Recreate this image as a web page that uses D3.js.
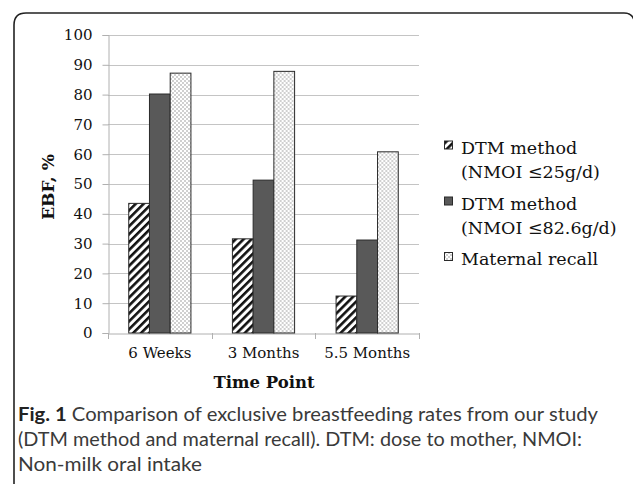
<!DOCTYPE html>
<html>
<head>
<meta charset="utf-8">
<script src="https://cdn.jsdelivr.net/npm/d3@7"></script>
<style>
  html, body { margin: 0; padding: 0; background: #fff; }
  svg { display: block; }
</style>
</head>
<body>
<svg id="chart" width="633" height="484"></svg>
<script>
const categories = ["6 Weeks", "3 Months", "5.5 Months"];
const seriesNames = ["DTM method (NMOI ≤25g/d)", "DTM method (NMOI ≤82.6g/d)", "Maternal recall"];
const legendLines = [["DTM method", "(NMOI ≤25g/d)"], ["DTM method", "(NMOI ≤82.6g/d)"], ["Maternal recall"]];
const dtm25 = [43.5, 31.6, 12.4];
const dtm82 = [80.2, 51.3, 31.2];
const recall = [87.2, 87.8, 60.8];
const yTicks = [0, 10, 20, 30, 40, 50, 60, 70, 80, 90, 100];
const captionLines = [
  {bold: "Fig. 1", text: " Comparison of exclusive breastfeeding rates from our study"},
  {bold: "", text: "(DTM method and maternal recall). DTM: dose to mother, NMOI:"},
  {bold: "", text: "Non-milk oral intake"}
];

(function () {
const seriesValues = [dtm25, dtm82, recall];
const svg = d3.select("#chart");
const defs = svg.append("defs");

// hatch pattern
const hatch = defs.append("pattern").attr("id", "hatch")
  .attr("patternUnits", "userSpaceOnUse").attr("width", 5.6).attr("height", 5.6)
  .attr("patternTransform", "rotate(45)");
hatch.append("rect").attr("width", 5.6).attr("height", 5.6).attr("fill", "#fff");
hatch.append("rect").attr("x", 0).attr("width", 2.6).attr("height", 5.6).attr("fill", "#111");

// dot pattern
const dots = defs.append("pattern").attr("id", "dots")
  .attr("patternUnits", "userSpaceOnUse").attr("width", 4).attr("height", 4);
dots.append("rect").attr("width", 4).attr("height", 4).attr("fill", "#fff");
dots.append("rect").attr("x", 0.5).attr("y", 0.5).attr("width", 1).attr("height", 1).attr("fill", "#444");
dots.append("rect").attr("x", 2.5).attr("y", 2.5).attr("width", 1).attr("height", 1).attr("fill", "#444");

const fills = ["url(#hatch)", "#595959", "url(#dots)"];

// frame
svg.append("path")
  .attr("d", "M14,484 L14,25 Q14,13 26,13 L624,13 Q632,13 634,20")
  .attr("fill", "none").attr("stroke", "#222").attr("stroke-width", 1.6);

const pLeft = 108, pRight = 419, pTop = 35, pBottom = 333;
const y = d3.scaleLinear().domain([0, 100]).range([pBottom, pTop]);
const x = d3.scaleBand().domain(categories).range([pLeft, pRight]).paddingInner(0).paddingOuter(0);
const xs = d3.scaleBand().domain(d3.range(3)).range([x.bandwidth() * 0.2, x.bandwidth() * 0.8]).padding(0);

// gridlines
svg.append("g").selectAll("line").data(yTicks.filter(d => d > 0)).join("line")
  .attr("x1", pLeft).attr("x2", pRight)
  .attr("y1", d => Math.round(y(d)) + 0.5).attr("y2", d => Math.round(y(d)) + 0.5)
  .attr("stroke", "#c4c4c4").attr("stroke-width", 1);

// y axis
const yAxis = svg.append("g").attr("transform", `translate(${pLeft + 0.5},0)`)
  .call(d3.axisLeft(y).tickValues(yTicks).tickSize(6).tickPadding(10).tickFormat(d3.format("d")));
yAxis.select(".domain").attr("stroke", "#b0b0b0");
yAxis.selectAll(".tick line").attr("stroke", "#b0b0b0");
yAxis.selectAll("text").attr("font-family", "'DejaVu Serif', serif").attr("font-size", 15).attr("fill", "#111");

// x axis
const xAxis = svg.append("g").attr("transform", `translate(0,${pBottom + 0.5})`)
  .call(d3.axisBottom(x).tickSize(0).tickPadding(14));
xAxis.select(".domain").attr("stroke", "#b0b0b0");
xAxis.selectAll("text").attr("font-family", "'DejaVu Serif', serif").attr("font-size", 15).attr("fill", "#111");
// category boundary ticks
svg.append("g").selectAll("line").data(categories.concat(["end"])).join("line")
  .attr("x1", (d, i) => Math.round(pLeft + i * x.bandwidth()) + 0.5)
  .attr("x2", (d, i) => Math.round(pLeft + i * x.bandwidth()) + 0.5)
  .attr("y1", pBottom).attr("y2", pBottom + 6)
  .attr("stroke", "#b0b0b0");

// bars
const groups = svg.append("g").selectAll("g").data(categories).join("g")
  .attr("transform", d => `translate(${x(d)},0)`);
groups.selectAll("rect").data((c, ci) => seriesValues.map((vals, si) => ({si, v: vals[ci]}))).join("rect")
  .attr("x", d => xs(d.si))
  .attr("width", xs.bandwidth())
  .attr("y", d => y(d.v))
  .attr("height", d => y(0) - y(d.v))
  .attr("fill", d => fills[d.si])
  .attr("stroke", "#2a2a2a").attr("stroke-width", 1);

// axis titles
svg.append("text").attr("x", 264).attr("y", 388).attr("text-anchor", "middle")
  .attr("font-family", "'DejaVu Serif', serif").attr("font-weight", "bold").attr("font-size", 16.5)
  .attr("fill", "#111").text("Time Point");
svg.append("text").attr("transform", "translate(54,187) rotate(-90)").attr("text-anchor", "middle")
  .attr("font-family", "'DejaVu Serif', serif").attr("font-weight", "bold").attr("font-size", 17)
  .attr("fill", "#111").text("EBF, %");

// legend
const legendBaselines = [[153.5, 177.5], [209.5, 233.5], [265]];
const lg = svg.append("g");
legendLines.forEach((lines, i) => {
  lg.append("rect").attr("x", 444.5).attr("y", legendBaselines[i][0] - 12.5).attr("width", 8).attr("height", 8)
    .attr("fill", fills[i]).attr("stroke", "#2a2a2a").attr("stroke-width", 1);
  lines.forEach((ln, j) => {
    lg.append("text").attr("x", 461).attr("y", legendBaselines[i][j])
      .attr("font-family", "'DejaVu Serif', serif").attr("font-size", 17.5).attr("fill", "#111")
      .text(ln);
  });
});

// caption
const capY = [421, 446, 471];
const capW = [580, 564, 184];
captionLines.forEach((c, i) => {
  const t = svg.append("text").attr("x", 18).attr("y", capY[i])
    .attr("font-family", "Lato, sans-serif").attr("font-size", 18.5).attr("fill", "#3a3a3a")
    .attr("textLength", capW[i]).attr("lengthAdjust", "spacingAndGlyphs");
  if (c.bold) t.append("tspan").attr("font-weight", "bold").attr("fill", "#222").text(c.bold);
  t.append("tspan").text(c.text);
});
})();
</script>
</body>
</html>
